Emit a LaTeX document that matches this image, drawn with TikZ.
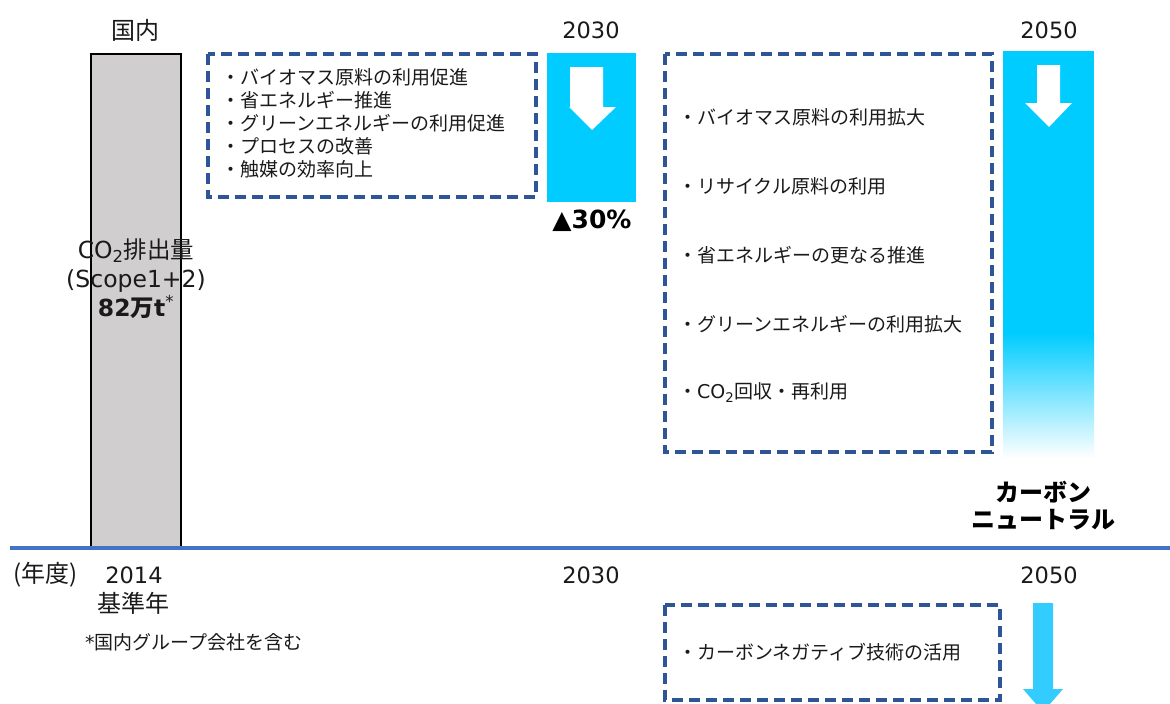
\documentclass[tikz,border=0pt]{standalone}
\usepackage{fontspec}
\setmainfont{Noto Sans CJK JP}
\newfontfamily\lat{DejaVu Sans}
\definecolor{barcyan}{HTML}{00CCFF}
\definecolor{arrcyan}{HTML}{33CCFF}
\definecolor{boxblue}{HTML}{2F5597}
\definecolor{axisblue}{HTML}{4472C4}
\definecolor{bargray}{HTML}{D0CECE}
\definecolor{txt}{HTML}{1A1A1A}
\tikzset{
  dashbox/.style={draw=boxblue, line width=3.5pt, dash pattern=on 11pt off 6pt},
  item/.style={anchor=west, inner sep=0pt, text=txt, font=\fontsize{19}{22}\selectfont},
  yearlbl/.style={inner sep=0pt, text=txt, font=\fontsize{22.5}{26}\selectfont},
  cjklbl/.style={inner sep=0pt, text=txt, font=\fontsize{24}{28}\selectfont},
  bigbold/.style={inner sep=0pt, text=black, font=\fontsize{24}{28}\selectfont\bfseries, align=center},
}
\begin{document}
\begin{tikzpicture}[x=1pt,y=-1pt]
\useasboundingbox (0,0) rectangle (1170,704);
\clip (0,0) rectangle (1170,704);
\fill[white] (0,0) rectangle (1170,704);

% gray bar
\draw[fill=bargray, draw=black, line width=2pt] (91,54) rectangle (181,548);
\node[cjklbl] (kokunai) at (135,30) {国内};
\node[inner sep=0pt, text=txt, align=center, font=\fontsize{23.5}{29}\selectfont] (co2) at (136,279)
  {{\lat CO}\textsubscript{\lat 2}排出量\\{\lat (Scope1+2)}\\{\bfseries\lat 82}{\bfseries 万}{\bfseries\lat t}\textsuperscript{\lat *}};

% left dashed box
\draw[dashbox] (208,54) rectangle (536,197);
\node[item] (l1) at (221,77) {・バイオマス原料の利用促進};
\node[item] (l2) at (221,100) {・省エネルギー推進};
\node[item] (l3) at (221,123) {・グリーンエネルギーの利用促進};
\node[item] (l4) at (221,146) {・プロセスの改善};
\node[item] (l5) at (221,169) {・触媒の効率向上};

% 2030 bar
\node[yearlbl] (y2030t) at (591,30) {\lat 2030};
\fill[barcyan] (547,53) rectangle (636,202);
\fill[white] (570,67) -- (603,67) -- (603,107) -- (616,107) -- (592,130) -- (569,107) -- (570,107) -- cycle;
\node[inner sep=0pt, text=black, font=\fontsize{25}{28}\selectfont\bfseries] (pct) at (592,221) {{\lat ▲30\%}};

% right dashed box
\draw[dashbox] (665,54) rectangle (992,452);
\node[item] (r1) at (678,117) {・バイオマス原料の利用拡大};
\node[item] (r2) at (678,186) {・リサイクル原料の利用};
\node[item] (r3) at (678,255) {・省エネルギーの更なる推進};
\node[item] (r4) at (678,324) {・グリーンエネルギーの利用拡大};
\node[item] (r5) at (678,393) {・{\lat CO}\textsubscript{\lat 2}回収・再利用};

% 2050 bar
\node[yearlbl] (y2050t) at (1049,30) {\lat 2050};
\fill[barcyan] (1003,51) rectangle (1094,334);
\shade[top color=barcyan, bottom color=white] (1003,333) rectangle (1094,458);
\fill[white] (1037,65) -- (1060,65) -- (1060,103) -- (1072,103) -- (1049,127) -- (1025,103) -- (1037,103) -- cycle;
\node[bigbold] (cn) at (1043,506) {カーボン\\[-1pt]ニュートラル};

% axis
\draw[axisblue, line width=4pt] (10,548) -- (1170,548);
\node[cjklbl] (nendo) at (46,575) {(年度)};
\node[yearlbl] (y2014) at (134,575) {\lat 2014};
\node[cjklbl] (kijun) at (133,603) {基準年};
\node[yearlbl] (y2030b) at (591,575) {\lat 2030};
\node[yearlbl] (y2050b) at (1049,575) {\lat 2050};
\node[item] (note) at (85,642) {{\lat *}国内グループ会社を含む};

% bottom dashed box
\draw[dashbox] (665,605) rectangle (1000,700);
\node[item] (b1) at (678,652) {・カーボンネガティブ技術の活用};
\fill[arrcyan] (1033,603) -- (1053,603) -- (1053,689) -- (1063,689) -- (1043,712) -- (1023,689) -- (1033,689) -- cycle;
\end{tikzpicture}
\end{document}
